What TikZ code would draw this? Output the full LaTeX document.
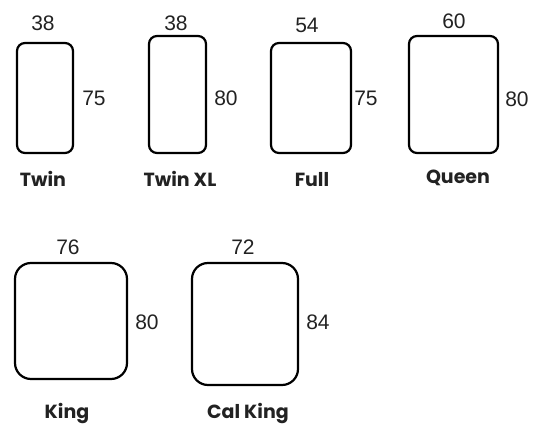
\documentclass[tikz,border=0pt]{standalone}
\usepackage{fontspec}
\setmainfont{Liberation Sans}
\newfontfamily\labfont{Poppins}
\definecolor{txt}{HTML}{222222}
\begin{document}
\begin{tikzpicture}[x=1pt,y=-1pt,
  bedbox/.style={draw=black,line width=2.2pt,rounded corners=8pt,inner sep=0pt},
  bigbed/.style={bedbox,rounded corners=16pt},
  numtext/.style={anchor=base,text=txt,font=\fontsize{21}{21}\selectfont,inner sep=0pt},
  bedlabel/.style={anchor=base,text=txt,font=\labfont\bfseries\fontsize{19}{19}\selectfont,inner sep=0pt}]
\useasboundingbox (0,0) rectangle (539,433);
% beds
\node[bedbox,minimum width=56pt,minimum height=110pt] (twin) at (45,98) {};
\node[bedbox,minimum width=57pt,minimum height=117pt] (twinxl) at (177.5,94.5) {};
\node[bedbox,minimum width=80pt,minimum height=110pt] (full) at (311,98) {};
\node[bedbox,minimum width=89pt,minimum height=117pt] (queen) at (453.5,94.5) {};
\node[bigbed,minimum width=112pt,minimum height=116pt] (king) at (71,321) {};
\node[bigbed,minimum width=106pt,minimum height=122pt] (calking) at (245,324) {};
% widths
\node[numtext] (w1) at (43,31) {38};
\node[numtext] (w2) at (176,31) {38};
\node[numtext] (w3) at (307,33) {54};
\node[numtext] (w4) at (454,29) {60};
\node[numtext] (w5) at (68,255) {76};
\node[numtext] (w6) at (243,255) {72};
% lengths
\node[numtext] (h1) at (94,106) {75};
\node[numtext] (h2) at (226,106) {80};
\node[numtext] (h3) at (366,106) {75};
\node[numtext] (h4) at (517,107) {80};
\node[numtext] (h5) at (147,330) {80};
\node[numtext] (h6) at (318,330) {84};
% names
\node[bedlabel] (n1) at (43,187) {Twin};
\node[bedlabel] (n2) at (180,187) {Twin XL};
\node[bedlabel] (n3) at (312,187) {Full};
\node[bedlabel] (n4) at (458,184) {Queen};
\node[bedlabel] (n5) at (67,418) {King};
\node[bedlabel] (n6) at (248,418) {Cal King};
\end{tikzpicture}
\end{document}
